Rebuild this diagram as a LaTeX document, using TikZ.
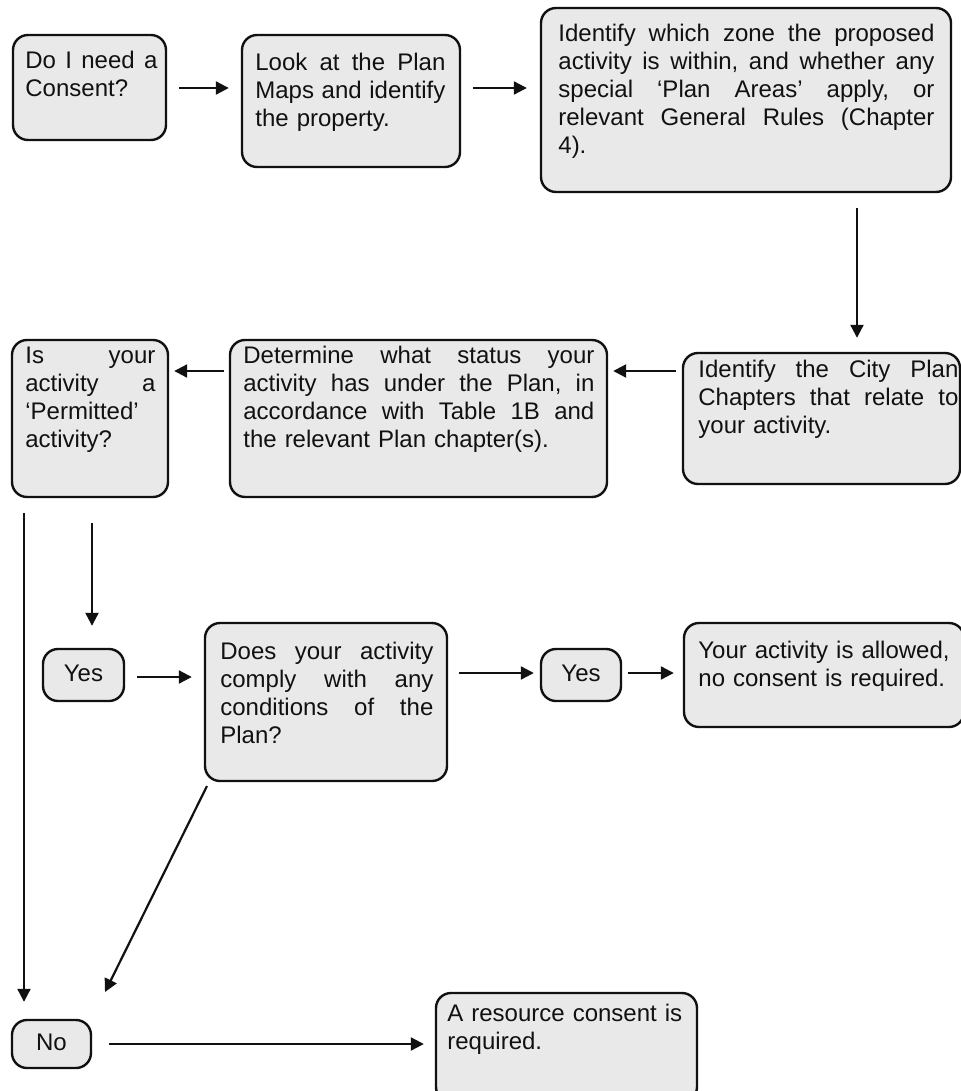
\documentclass[tikz,border=0pt]{standalone}
\usepackage{fontspec}
\setmainfont{Liberation Sans}
\usetikzlibrary{arrows.meta,fit,calc}
\definecolor{boxfill}{HTML}{E9E9E9}
\definecolor{ink}{HTML}{111111}
\begin{document}
\begin{tikzpicture}[x=0.5pt,y=-0.5pt,
  box/.style={draw=ink, line width=1.2pt, fill=boxfill, rounded corners=7.5pt, inner sep=0pt},
  txt/.style={anchor=base west, inner sep=0pt, align=left, font=\fontsize{12}{14}\selectfont, text=ink},
  ctxt/.style={anchor=base, inner sep=0pt, font=\fontsize{12}{14}\selectfont, text=ink},
  arr/.style={draw=ink, line width=1.1pt, -{Triangle[length=6.5pt,width=6.5pt]}}]
\useasboundingbox (0,0) rectangle (961,1091);

% boxes
\node[box, fit={(13,35) (166,140)}] (b1) {};
\node[box, fit={(242,35) (460,167)}] (b2) {};
\node[box, fit={(541,8) (951,192)}] (b3) {};
\node[box, fit={(683,353) (960,484)}] (cp) {};
\node[box, fit={(230,340) (607,497)}] (det) {};
\node[box, fit={(12,340) (168,497)}] (isp) {};
\node[box, fit={(43,649) (124,701)}] (yes1) {};
\node[box, fit={(205,623) (447,781)}] (does) {};
\node[box, fit={(541,649) (621,701)}] (yes2) {};
\node[box, fit={(684,623) (964,727)}] (ok) {};
\node[box, fit={(12,1020) (91,1068)}] (no) {};
\node[box, fit={(436,993) (697,1102)}] (rc) {};

% texts
\node[txt, text width=66pt] (t1) at (25,69) {Do\hfill I\hfill need\hfill a\\Consent?};
\node[txt, text width=95pt] (t2) at (255,71) {Look\hfill at\hfill the\hfill Plan\\Maps\hfill and\hfill identify\\the property.};
\node[txt, text width=188pt] (t3) at (558,42) {Identify\hfill which\hfill zone\hfill the\hfill proposed\\activity\hfill is\hfill within,\hfill and\hfill whether\hfill any\\special\hfill ‘Plan\hfill Areas’\hfill apply,\hfill or\\relevant\hfill General\hfill Rules\hfill (Chapter\\4).};
\node[txt, text width=130pt] (tcp) at (698,377) {Identify\hfill the\hfill City\hfill Plan\\Chapters\hfill that\hfill relate\hfill to\\your activity.};
\node[txt, text width=175.5pt] (tdet) at (243,363) {Determine\hfill what\hfill status\hfill your\\activity\hfill has\hfill under\hfill the\hfill Plan,\hfill in\\accordance\hfill with\hfill Table\hfill 1B\hfill and\\the relevant Plan chapter(s).};
\node[txt, text width=65pt] (tisp) at (25,363) {Is\hfill your\\activity\hfill a\\‘Permitted’\\activity?};
\node[txt, text width=106.5pt] (tdoes) at (220,659) {Does\hfill your\hfill activity\\comply\hfill with\hfill any\\conditions\hfill of\hfill the\\Plan?};
\node[txt, text width=130pt] (tok) at (698,658) {Your activity is allowed,\\no consent is required.};
\node[txt, text width=125pt] (trc) at (447,1021) {A resource consent is\\required.};
\node[ctxt] (ty1) at ($(yes1.center)+(0,6)$) {Yes};
\node[ctxt] (ty2) at ($(yes2.center)+(0,6)$) {Yes};
\node[ctxt] (tno) at ($(no.center)+(0,6)$) {No};

% connector helper coordinates
\coordinate (ya) at (0,88);
\coordinate (yb) at (0,371);
\coordinate (xd) at (857,0);
\coordinate (xl) at (24,0);
\coordinate (xy) at (92,0);
\coordinate (yc) at (0,677);
\coordinate (ye) at (0,673);
\coordinate (yn) at (0,1044);
\coordinate (ds) at (207,786);
\coordinate (de) at (105,992);

% connectors
\draw[arr, shorten <=6pt, shorten >=6pt] (b1.east |- ya) -- (b2.west |- ya);
\draw[arr, shorten <=6pt, shorten >=6.5pt] (b2.east |- ya) -- (b3.west |- ya);
\draw[arr, shorten <=7.5pt, shorten >=7pt] (b3.south -| xd) -- (cp.north -| xd);
\draw[arr, shorten <=3pt, shorten >=2.5pt] (cp.west |- yb) -- (det.east |- yb);
\draw[arr, shorten <=2.5pt, shorten >=2.5pt] (det.west |- yb) -- (isp.east |- yb);
\draw[arr, shorten <=7.5pt, shorten >=8.5pt] (isp.south -| xl) -- (no.north -| xl);
\draw[arr, shorten <=12.5pt, shorten >=11pt] (isp.south -| xy) -- (yes1.north -| xy);
\draw[arr, shorten <=6pt, shorten >=6pt] (yes1.east |- yc) -- (does.west |- yc);
\draw[arr, shorten <=5.5pt, shorten >=3pt] (does.east |- ye) -- (yes2.west |- ye);
\draw[arr, shorten <=3pt, shorten >=4.5pt] (yes2.east |- ye) -- (ok.west |- ye);
\draw[arr] (ds) -- (de);
\draw[arr, shorten <=8.5pt, shorten >=5.5pt] (no.east |- yn) -- (rc.west |- yn);
\end{tikzpicture}
\end{document}
